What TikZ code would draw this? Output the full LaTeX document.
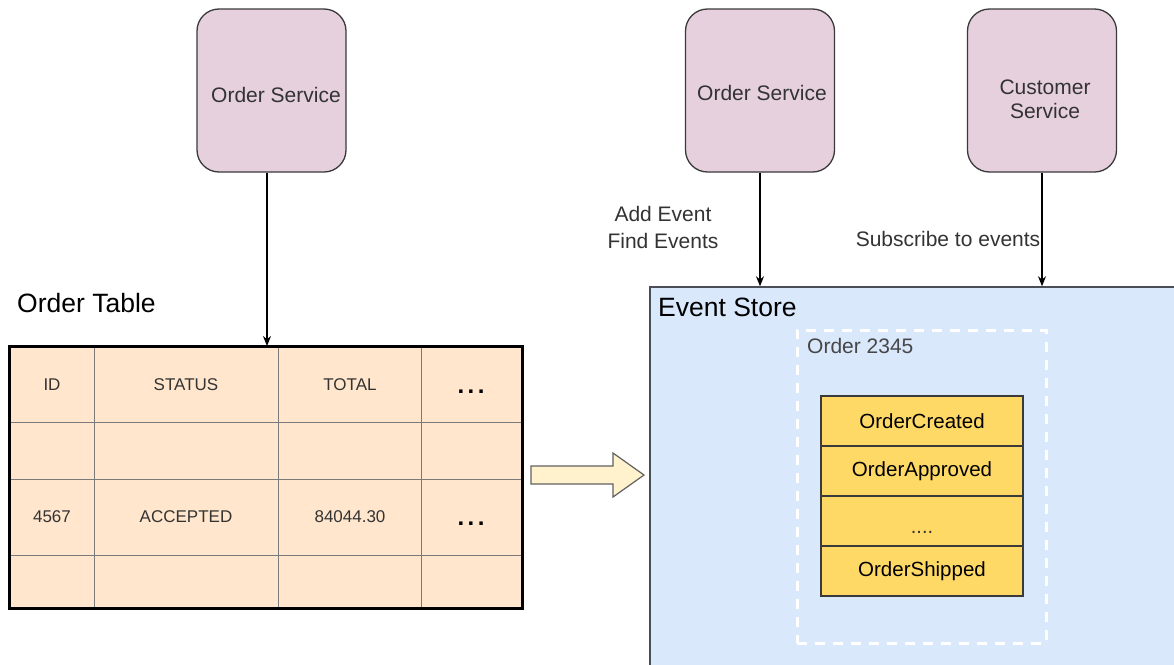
\documentclass[tikz,border=0pt]{standalone}
\usepackage{fontspec}
\setmainfont{Liberation Sans}
\usetikzlibrary{arrows.meta}
\definecolor{svcfill}{HTML}{E6D0DE}
\definecolor{svcline}{HTML}{3A3A3A}
\definecolor{tabfill}{HTML}{FFE6CC}
\definecolor{tabgrid}{HTML}{7A7A7A}
\definecolor{storefill}{HTML}{DAE8FC}
\definecolor{storeline}{HTML}{4A4F57}
\definecolor{evfill}{HTML}{FFD966}
\definecolor{arrfill}{HTML}{FFF2CC}
\definecolor{txt}{HTML}{333333}
\tikzset{
  svc/.style={draw=svcline, line width=1.3pt, fill=svcfill, rounded corners=22pt,
    minimum width=149pt, minimum height=163pt, inner sep=0pt},
  svctext/.style={inner sep=0pt, text=txt, align=center, font=\fontsize{21}{24}\selectfont},
  lbl/.style={inner sep=0pt, text=txt, align=center, font=\fontsize{21}{27}\selectfont},
  big/.style={inner sep=0pt, text=black, anchor=west, font=\fontsize{26.5}{30}\selectfont},
  cell/.style={inner sep=0pt, text=txt, font=\fontsize{17}{20}\selectfont},
  dots/.style={inner sep=0pt, text=black, font=\bfseries\fontsize{24}{24}\selectfont},
  ev/.style={draw=svcline, line width=1.3pt, fill=evfill, minimum width=202pt,
    minimum height=50pt, inner sep=0pt, text=black, font=\fontsize{20.5}{22}\selectfont},
  conn/.style={draw=black, line width=1.2pt, -{Stealth[length=10pt,width=8pt]}},
  grid/.style={draw=tabgrid, line width=1pt}
}
\begin{document}
\begin{tikzpicture}[x=1pt,y=-1pt]
\useasboundingbox[fill=white] (0,0) rectangle (1174,664);

% services
\node[svc] (os1) at (271.5,90.5) {};
\node[svctext] (os1t) at (276,95) {Order Service};
\node[svc] (os2) at (760,90.5) {};
\node[svctext] (os2t) at (762,93) {Order Service};
\node[svc] (cs) at (1042,90.5) {};
\node[svctext] (cst) at (1045,99) {Customer\\Service};

% order table
\node[big] (ttitle) at (17,303) {Order Table};
\node[draw=black, line width=2pt, fill=tabfill, minimum width=512pt, minimum height=261pt, inner sep=0pt] (table) at (266,477.5) {};
\foreach \x in {94,278,421} \draw[grid] (\x,348) -- (\x,607);
\foreach \y in {422,479,555} \draw[grid] (11,\y) -- (521,\y);
\draw[draw=black, line width=2pt] (table.north west) rectangle (table.south east);
\node[cell] (h1) at (52,385) {ID};
\node[cell] (h2) at (186,385) {STATUS};
\node[cell] (h3) at (350,385) {TOTAL};
\node[dots] (h4) at (471,392) {.\hspace{3.5pt}.\hspace{3.5pt}.};
\node[cell] (r1) at (52,517) {4567};
\node[cell] (r2) at (186,517) {ACCEPTED};
\node[cell] (r3) at (350,517) {84044.30};
\node[dots] (r4) at (471,524) {.\hspace{3.5pt}.\hspace{3.5pt}.};

% hollow arrow
\draw[draw=svcline!80, line width=1.2pt, fill=arrfill, line join=miter]
  (531,466) -- (613,466) -- (613,453) -- (644,475) -- (613,497) -- (613,484) -- (531,484) -- cycle;

% event store
\node[draw=storeline, line width=1.5pt, fill=storefill, minimum width=540pt, minimum height=400pt, inner sep=0pt] (store) at (920,487) {};
\node[big] (stitle) at (658,307) {Event Store};
\node[draw=white, line width=3pt, dash pattern=on 10pt off 8pt, minimum width=249pt, minimum height=313pt, inner sep=0pt] (agg) at (921.5,486.5) {};
\node[inner sep=0pt, anchor=west, text=txt!90, font=\fontsize{21}{24}\selectfont] (aggt) at (807,346) {Order 2345};

\node[ev] (e1) at (922,421) {OrderCreated};
\node[ev] (e2) at (922,471) {OrderApproved};
\node[ev] (e3) at (922,521) {};
\node[inner sep=0pt, text=txt, font=\fontsize{20}{20}\selectfont] (e3t) at (922,532) {....};
\node[ev] (e4) at (922,571) {OrderShipped};

% labels
\node[lbl] (l1) at (663,227.5) {Add Event\\Find Events};
\node[lbl] (l2) at (948,239) {Subscribe to events};

% connectors
\coordinate (t1) at (267,0);
\draw[conn] (os1.south -| t1) -- (table.north -| t1);
\draw[conn] (os2.south) -- (os2.south |- store.north);
\draw[conn] (cs.south) -- (cs.south |- store.north);
\end{tikzpicture}
\end{document}
